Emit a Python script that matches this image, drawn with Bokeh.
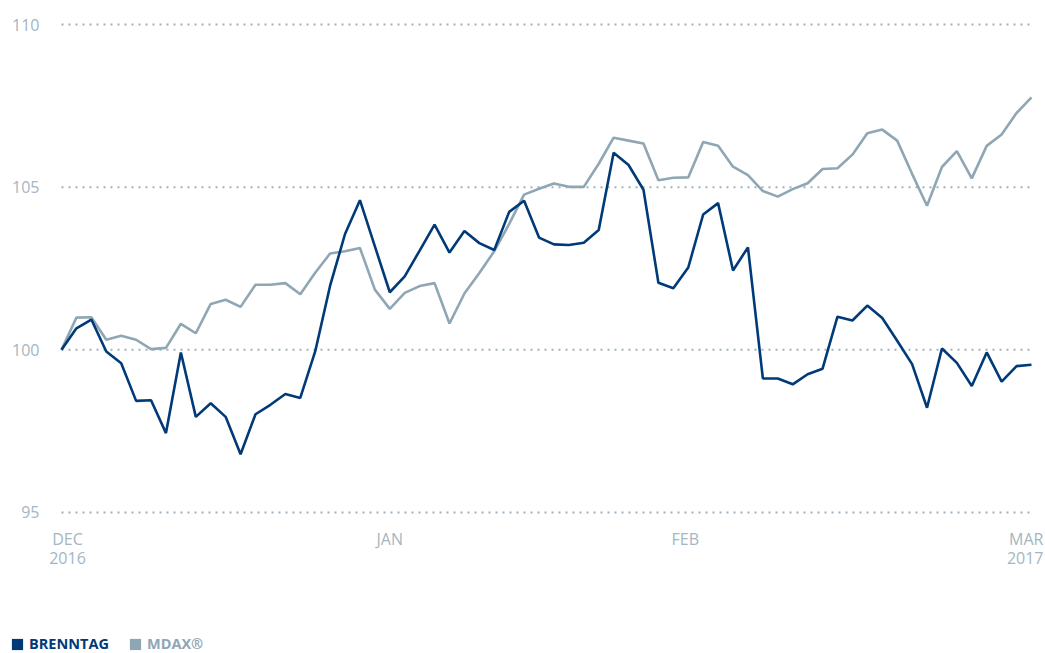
from bokeh.plotting import figure
from bokeh.models import Range1d, Legend, LegendItem, ColumnDataSource
from bokeh.core.properties import value
from bokeh.embed import file_html
from bokeh.resources import INLINE

# ---- data (index = trading day from 1 Dec 2016 to 1 Mar 2017, rebased to 100) ----
day_index = list(range(66))
brenntag = [100.0, 100.66, 100.93, 99.95, 99.59, 98.43, 98.45, 97.44, 99.92, 97.94,
            98.36, 97.94, 96.79, 98.02, 98.31, 98.64, 98.52, 99.95, 101.97, 103.56,
            104.6, 103.18, 101.77, 102.26, 103.05, 103.85, 102.99, 103.65, 103.28, 103.07,
            104.24, 104.58, 103.45, 103.24, 103.22, 103.29, 103.68, 106.06, 105.68, 104.92,
            102.06, 101.89, 102.53, 104.16, 104.51, 102.44, 103.15, 99.12, 99.12, 98.94,
            99.25, 99.42, 101.02, 100.90, 101.36, 100.98, 100.28, 99.56, 98.22, 100.04,
            99.60, 98.89, 99.92, 99.02, 99.50, 99.54]
mdax = [100.0, 100.99, 101.0, 100.31, 100.43, 100.31, 100.02, 100.06, 100.8, 100.51,
        101.41, 101.54, 101.32, 102.0, 102.0, 102.05, 101.71, 102.37, 102.96, 103.03,
        103.13, 101.85, 101.26, 101.75, 101.96, 102.05, 100.81, 101.73, 102.36, 103.03,
        103.87, 104.77, 104.95, 105.11, 105.01, 105.01, 105.72, 106.52, 106.43, 106.34,
        105.21, 105.29, 105.30, 106.39, 106.27, 105.63, 105.37, 104.88, 104.71, 104.94,
        105.12, 105.56, 105.58, 106.0, 106.66, 106.77, 106.43, 105.41, 104.43, 105.62,
        106.11, 105.27, 106.27, 106.62, 107.28, 107.76]
y_ticks = [95, 100, 105, 110]
x_tick_pos = [0, 22, 42, 65]
x_tick_labels = ["DEC\n2016", "JAN", "FEB", "MAR\n2017"]
series_names = ["BRENNTAG", "MDAX®"]

DARK = "#003a78"
GREY = "#8fa6b4"
TXT = "#a3b6c3"
GRID = "#9fb1bd"
FONT = "Open Sans"

# frame covers the whole canvas; axes texts are drawn as text glyphs
p = figure(width=1045, height=653, output_backend="svg", toolbar_location=None,
           x_range=Range1d(-4.088, 65.94), y_range=Range1d(90.665, 110.738),
           min_border=0, min_border_left=0, min_border_right=0,
           min_border_top=0, min_border_bottom=0)
p.outline_line_color = None
p.background_fill_color = "white"
p.border_fill_color = "white"
p.xaxis.visible = False
p.yaxis.visible = False
p.xgrid.visible = False
p.ygrid.visible = False

# dotted horizontal grid lines spanning the data range
n = len(y_ticks)
p.segment(x0=[day_index[0]] * n, x1=[day_index[-1]] * n, y0=y_ticks, y1=y_ticks,
          line_color=GRID, line_width=2, line_dash="2 5")

# y tick labels
p.text(x=[day_index[0]] * n, y=y_ticks, text=[str(t) for t in y_ticks],
       text_align="right", text_baseline="middle", x_offset=-22,
       text_color=TXT, text_font=value(FONT), text_font_size="16px")

# x tick labels
xl = ColumnDataSource(dict(x=x_tick_pos, y=[y_ticks[0]] * len(x_tick_pos),
                           t=x_tick_labels,
                           align=["center", "center", "center", "right"],
                           dx=[6, 0, -3, 12]))
p.text(x="x", y="y", text="t", source=xl, text_align="align", x_offset="dx",
       y_offset=16, text_baseline="top", text_line_height=0.85,
       text_color=TXT, text_font=value(FONT), text_font_size="16px")

src = ColumnDataSource(dict(x=day_index, b=brenntag, m=mdax))
p.line("x", "m", source=src, line_color=GREY, line_width=2.6)
p.line("x", "b", source=src, line_color=DARK, line_width=2.6)

# legend swatches: zero-height bars at the first data point (invisible in the plot)
sw_b = p.vbar(x=day_index[:1], top=brenntag[:1], bottom=brenntag[:1], width=0,
              fill_color=DARK, line_color=None)
sw_m = p.vbar(x=day_index[:1], top=mdax[:1], bottom=mdax[:1], width=0,
              fill_color=GREY, line_color=None)

def make_legend(name, rend, color, loc):
    return Legend(items=[LegendItem(label=name, renderers=[rend])], location=loc,
                  orientation="horizontal", glyph_width=14, glyph_height=14,
                  label_standoff=5, label_height=14, padding=0, margin=0, spacing=0,
                  border_line_color=None, background_fill_alpha=0,
                  label_text_color=color, label_text_font=FONT,
                  label_text_font_style="bold", label_text_font_size="14.5px")

p.add_layout(make_legend(series_names[0], sw_b, DARK, (10, 0)), "center")
p.add_layout(make_legend(series_names[1], sw_m, GREY, (128, 0)), "center")

open("out.html", "w").write(file_html(p, INLINE))
